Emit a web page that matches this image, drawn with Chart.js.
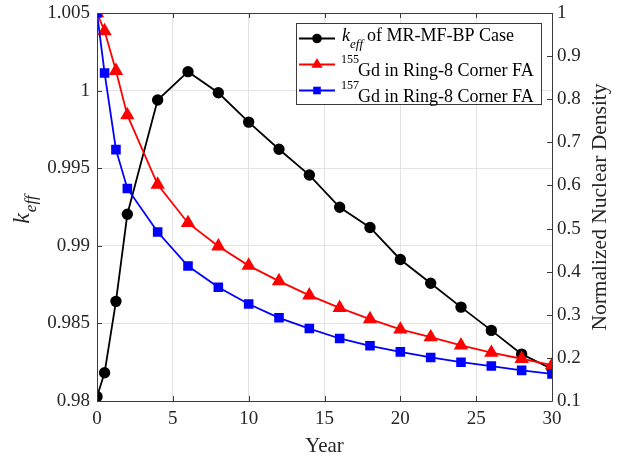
<!DOCTYPE html>
<html lang="en">
<head>
<meta charset="UTF-8">
<title>keff and Gd depletion</title>
<style>
  body { margin: 0; background: #fff; }
  .wrap { width: 622px; height: 456px; position: relative; }
</style>
</head>
<body>
<div class="wrap"><canvas id="chart"></canvas></div>
<script src="https://cdn.jsdelivr.net/npm/chart.js"></script>
<script>
// burnup steps (years) and results
const years = [0, 0.5, 1.25, 2, 4, 6, 8, 10, 12, 14, 16, 18, 20, 22, 24, 26, 28, 30];
const keff  = [0.98028, 0.98182, 0.98642, 0.99203, 0.99939, 1.00122, 0.99986, 0.99797, 0.99622,
               0.99456, 0.99248, 0.99118, 0.98912, 0.98759, 0.98605, 0.98455, 0.98302, 0.98206];
const gd155 = [1.0, 0.958, 0.866, 0.763, 0.602, 0.513, 0.459, 0.414, 0.378,
               0.345, 0.316, 0.290, 0.266, 0.248, 0.229, 0.212, 0.198, 0.183];
const gd157 = [1.0, 0.861, 0.683, 0.593, 0.492, 0.413, 0.364, 0.325, 0.293,
               0.268, 0.245, 0.228, 0.214, 0.201, 0.190, 0.181, 0.171, 0.163];

const xTicks = [0, 5, 10, 15, 20, 25, 30];
const keffTicks = [0.98, 0.985, 0.99, 0.995, 1, 1.005];
const densTicks = [0.1, 0.2, 0.3, 0.4, 0.5, 0.6, 0.7, 0.8, 0.9, 1];

const SERIF = "'Liberation Serif', 'Times New Roman', serif";
const AXIS = '#3a3a3a';
const GRID = '#e3e3e3';

function pts(ys) {
  return years.map((x, i) => ({ x: x, y: ys[i] }));
}

function drawMarker(ctx, style, x, y, r, color) {
  ctx.fillStyle = color;
  ctx.beginPath();
  if (style === 'circle') {
    ctx.arc(x, y, r, 0, Math.PI * 2);
  } else if (style === 'triangle') {
    ctx.moveTo(x, y - r);
    ctx.lineTo(x + r * 0.866, y + r * 0.5);
    ctx.lineTo(x - r * 0.866, y + r * 0.5);
    ctx.closePath();
  } else {
    ctx.rect(x - r, y - r, 2 * r, 2 * r);
  }
  ctx.fill();
}

// box, inward ticks, axis titles and the legend
const decor = {
  id: 'decor',
  afterDraw(chart) {
    const ctx = chart.ctx;
    const a = chart.chartArea;
    const sx = chart.scales.x, sy = chart.scales.y, sy1 = chart.scales.y1;
    ctx.save();

    ctx.strokeStyle = AXIS;
    ctx.lineWidth = 1;
    ctx.beginPath();
    ctx.rect(a.left + 0.5, a.top + 0.5, a.right - a.left, a.bottom - a.top);
    xTicks.forEach(v => {
      const px = Math.round(sx.getPixelForValue(v)) + 0.5;
      ctx.moveTo(px, a.bottom); ctx.lineTo(px, a.bottom - 5);
      ctx.moveTo(px, a.top); ctx.lineTo(px, a.top + 5);
    });
    keffTicks.forEach(v => {
      const py = Math.round(sy.getPixelForValue(v)) + 0.5;
      ctx.moveTo(a.left, py); ctx.lineTo(a.left + 5, py);
    });
    densTicks.forEach(v => {
      const py = Math.round(sy1.getPixelForValue(v)) + 0.5;
      ctx.moveTo(a.right, py); ctx.lineTo(a.right - 5, py);
    });
    ctx.stroke();

    // axis titles
    ctx.fillStyle = '#262626';
    ctx.textBaseline = 'alphabetic';
    ctx.font = '21px ' + SERIF;
    ctx.textAlign = 'center';
    ctx.fillText('Year', (a.left + a.right) / 2, 452);

    ctx.save();
    ctx.translate(606, (a.top + a.bottom) / 2);
    ctx.rotate(-Math.PI / 2);
    ctx.font = '21.5px ' + SERIF;
    ctx.fillText('Normalized Nuclear Density', 0, 0);
    ctx.restore();

    ctx.save();
    ctx.translate(29, 210);
    ctx.rotate(-Math.PI / 2);
    ctx.textAlign = 'left';
    ctx.font = 'italic 24px ' + SERIF;
    const wk = ctx.measureText('k').width;
    ctx.font = 'italic 17px ' + SERIF;
    const we = ctx.measureText('eff').width;
    const x0 = -(wk + we) / 2;
    ctx.font = 'italic 24px ' + SERIF;
    ctx.fillText('k', x0, 0);
    ctx.font = 'italic 17px ' + SERIF;
    ctx.fillText('eff', x0 + wk + 1, 7);
    ctx.restore();

    // legend
    const lx = 296, ly = 23, lw = 245, lh = 81;
    ctx.fillStyle = '#fff';
    ctx.fillRect(lx, ly, lw, lh);
    ctx.strokeStyle = AXIS;
    ctx.strokeRect(lx + 0.5, ly + 0.5, lw, lh);

    const rows = [38.5, 64.5, 90.5];
    chart.data.datasets.forEach((ds, i) => {
      const y = rows[i];
      ctx.strokeStyle = ds.borderColor;
      ctx.lineWidth = ds.borderWidth;
      ctx.beginPath();
      ctx.moveTo(299, y); ctx.lineTo(335, y);
      ctx.stroke();
      drawMarker(ctx, ds.pointStyle, 317, y, ds.legendSize, ds.borderColor);
    });

    ctx.fillStyle = '#000';
    ctx.textAlign = 'left';
    ctx.font = 'italic 18px ' + SERIF;
    ctx.fillText('k', 342, 41);
    ctx.font = 'italic 13px ' + SERIF;
    ctx.fillText('eff', 350, 48);
    ctx.font = '18px ' + SERIF;
    ctx.fillText('of MR-MF-BP Case', 367, 41);

    ctx.font = '12px ' + SERIF;
    ctx.fillText('155', 341, 63);
    ctx.fillText('157', 341, 89);
    ctx.font = '18px ' + SERIF;
    ctx.fillText('Gd in Ring-8 Corner FA', 358, 76);
    ctx.fillText('Gd in Ring-8 Corner FA', 358, 102);

    ctx.restore();
  }
};

new Chart(document.getElementById('chart'), {
  type: 'line',
  data: {
    datasets: [
      {
        label: 'keff of MR-MF-BP Case',
        data: pts(keff),
        yAxisID: 'y',
        borderColor: '#000000',
        backgroundColor: '#000000',
        borderWidth: 1.8,
        pointStyle: 'circle',
        pointRadius: 4.8,
        legendSize: 4.8,
        order: 3
      },
      {
        label: '155Gd in Ring-8 Corner FA',
        data: pts(gd155),
        yAxisID: 'y1',
        borderColor: '#ff0000',
        backgroundColor: '#ff0000',
        borderWidth: 1.8,
        pointStyle: 'triangle',
        pointRadius: 6.5,
        legendSize: 6.5,
        order: 2
      },
      {
        label: '157Gd in Ring-8 Corner FA',
        data: pts(gd157),
        yAxisID: 'y1',
        borderColor: '#0000ff',
        backgroundColor: '#0000ff',
        borderWidth: 1.8,
        pointStyle: 'rect',
        pointRadius: 5.5,
        legendSize: 3.8,
        order: 1
      }
    ]
  },
  options: {
    responsive: true,
    maintainAspectRatio: false,
    animation: false,
    layout: { padding: { top: 13, left: 0, right: 0, bottom: 0 } },
    plugins: { legend: { display: false }, tooltip: { enabled: false } },
    elements: { line: { tension: 0 }, point: { borderWidth: 0 } },
    scales: {
      x: {
        type: 'linear',
        min: 0, max: 30,
        afterBuildTicks: s => { s.ticks = xTicks.map(v => ({ value: v })); },
        afterFit: s => { s.height = 55; },
        grid: { color: GRID, drawTicks: false },
        border: { display: false },
        ticks: { padding: 7, color: '#262626', font: { family: SERIF, size: 19 }, maxRotation: 0 }
      },
      y: {
        position: 'left',
        min: 0.98, max: 1.005,
        afterBuildTicks: s => { s.ticks = keffTicks.map(v => ({ value: v })); },
        afterFit: s => { s.width = 97; },
        grid: { color: GRID, drawTicks: false },
        border: { display: false },
        ticks: {
          padding: 7, color: '#262626', font: { family: SERIF, size: 19, lineHeight: 0.6 },
          callback: v => String(+v.toFixed(3))
        }
      },
      y1: {
        position: 'right',
        min: 0.1, max: 1,
        afterBuildTicks: s => { s.ticks = densTicks.map(v => ({ value: v })); },
        afterFit: s => { s.width = 70; },
        grid: { drawOnChartArea: false, drawTicks: false },
        border: { display: false },
        ticks: {
          padding: 5, color: '#262626', font: { family: SERIF, size: 19, lineHeight: 0.6 },
          callback: v => String(+v.toFixed(1))
        }
      }
    }
  },
  plugins: [decor]
});
</script>
</body>
</html>
